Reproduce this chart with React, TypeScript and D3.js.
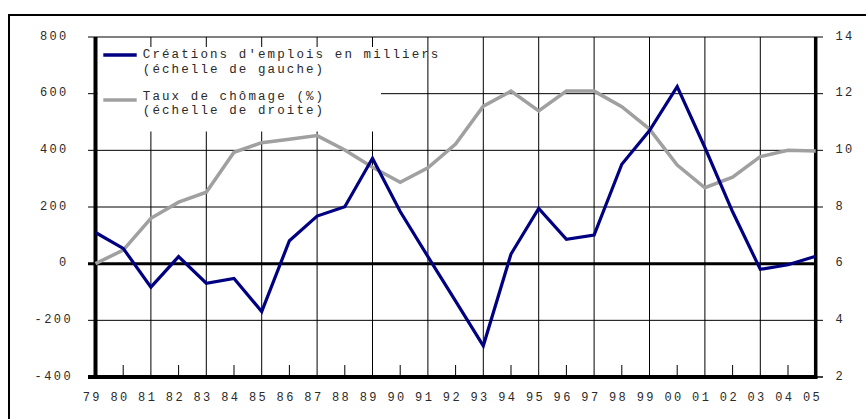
import React from "react";
import * as d3 from "d3";

const years = ["79","80","81","82","83","84","85","86","87","88","89","90","91","92","93","94","95","96","97","98","99","00","01","02","03","04","05"];
const jobs = [110, 54, -83, 25, -69, -52, -169, 81, 168, 201, 372, 184, 25, -132, -290, 34, 195, 86, 101, 351, 470, 625, 410, 183, -20, -4, 26];
const unemployment = [6.0, 6.48, 7.6, 8.17, 8.52, 9.93, 10.27, 10.39, 10.52, 10.01, 9.4, 8.87, 9.38, 10.22, 11.56, 12.09, 11.39, 12.09, 12.09, 11.54, 10.75, 9.48, 8.68, 9.05, 9.78, 10.0, 9.98];
const leftTicks = [800, 600, 400, 200, 0, -200, -400];
const rightTicks = [14, 12, 10, 8, 6, 4, 2];
const legendJobs = ["Créations d'emplois en milliers", "(échelle de gauche)"];
const legendRate = ["Taux de chômage (%)", "(échelle de droite)"];

const W = 866;
const H = 419;
const X0 = 95.5;
const X1 = 815.7;
const Y0 = 37;
const Y1 = 377;
const FONT = "'Liberation Mono', 'Courier New', monospace";
const NAVY = "#000080";
const GREY = "#a0a0a0";

export default function App() {
  const x = d3.scalePoint<string>().domain(years).range([X0, X1]);
  const yL = d3.scaleLinear().domain([-400, 800]).range([Y1, Y0]);
  const yR = d3.scaleLinear().domain([2, 14]).range([Y1, Y0]);

  const lineJobs = d3.line<number>().x((_, i) => x(years[i]) as number).y((d) => yL(d));
  const lineRate = d3.line<number>().x((_, i) => x(years[i]) as number).y((d) => yR(d));

  const oddYears = years.filter((_, i) => i % 2 === 0 && i > 0 && i < years.length - 1);
  const evenYears = years.filter((_, i) => i % 2 === 1);

  return (
    <svg width={W} height={H} style={{ position: "absolute", left: 0, top: 0, background: "#fff" }}>
      <rect x={0} y={0} width={W} height={H} fill="#fff" />
      {/* outer frame */}
      <rect x={9} y={15} width={880} height={440} fill="none" stroke="#000" strokeWidth={2} />

      {/* horizontal gridlines */}
      {leftTicks.map((t) => (
        <line key={"h" + t} x1={88} x2={t === 0 ? X1 : 823} y1={yL(t)} y2={yL(t)} stroke="#000" strokeWidth={t === 0 ? 3 : 1} />
      ))}
      {/* vertical gridlines (odd years) */}
      {oddYears.map((yr) => (
        <line key={"v" + yr} x1={x(yr)} x2={x(yr)} y1={Y0} y2={Y1} stroke="#000" strokeWidth={1} />
      ))}
      {/* short ticks (even years) */}
      {evenYears.map((yr) => (
        <line key={"t" + yr} x1={x(yr)} x2={x(yr)} y1={Y1 - 12} y2={Y1} stroke="#000" strokeWidth={1} />
      ))}

      {/* legend box */}
      <rect x={97.5} y={47} width={283.5} height={84.5} fill="#fff" />

      {/* axes */}
      <line x1={X0} x2={X0} y1={Y0} y2={Y1 + 2} stroke="#000" strokeWidth={4} />
      <line x1={X1} x2={X1} y1={Y0} y2={Y1 + 2} stroke="#000" strokeWidth={3.5} />
      <line x1={88} x2={X1 + 1.5} y1={Y1} y2={Y1} stroke="#000" strokeWidth={4} />
      <line x1={X1} x2={823} y1={Y1} y2={Y1} stroke="#000" strokeWidth={1} />

      {/* series */}
      <path d={lineRate(unemployment) || ""} fill="none" stroke={GREY} strokeWidth={3.5} strokeLinejoin="miter" />
      <path d={lineJobs(jobs) || ""} fill="none" stroke={NAVY} strokeWidth={3.2} strokeLinejoin="miter" />

      {/* left axis labels */}
      {leftTicks.map((t) => (
        <text key={"l" + t} x={t < 0 ? 73 : 68.7} y={yL(t) + 2.8} textAnchor="end" fontFamily={FONT} fontSize={12} letterSpacing={2.4} fill="#2a2a2a">
          {t}
        </text>
      ))}
      {/* right axis labels */}
      {rightTicks.map((t) => (
        <text key={"r" + t} x={835.4} y={yR(t) + 2.8} textAnchor="start" fontFamily={FONT} fontSize={12} letterSpacing={2.4} fill="#2a2a2a">
          {t}
        </text>
      ))}
      {/* year labels */}
      {years.map((yr) => (
        <text key={"y" + yr} x={(x(yr) as number) - 3.2} y={400.5} textAnchor="middle" fontFamily={FONT} fontSize={12} letterSpacing={2.4} fill="#2a2a2a">
          {yr}
        </text>
      ))}

      {/* legend */}
      <line x1={103.3} x2={136.7} y1={55} y2={55} stroke={NAVY} strokeWidth={3.4} />
      <line x1={103.3} x2={136.7} y1={100} y2={100} stroke={GREY} strokeWidth={3.4} />
      {legendJobs.map((s, i) => (
        <text key={"lj" + i} x={142.8} y={58.3 + i * 14.3} fontFamily={FONT} fontSize={12.5} letterSpacing={2.1} fill="#2a2a2a">
          {s}
        </text>
      ))}
      {legendRate.map((s, i) => (
        <text key={"lr" + i} x={142.8} y={100 + i * 14.3} fontFamily={FONT} fontSize={12.5} letterSpacing={2.1} fill="#2a2a2a">
          {s}
        </text>
      ))}
    </svg>
  );
}
